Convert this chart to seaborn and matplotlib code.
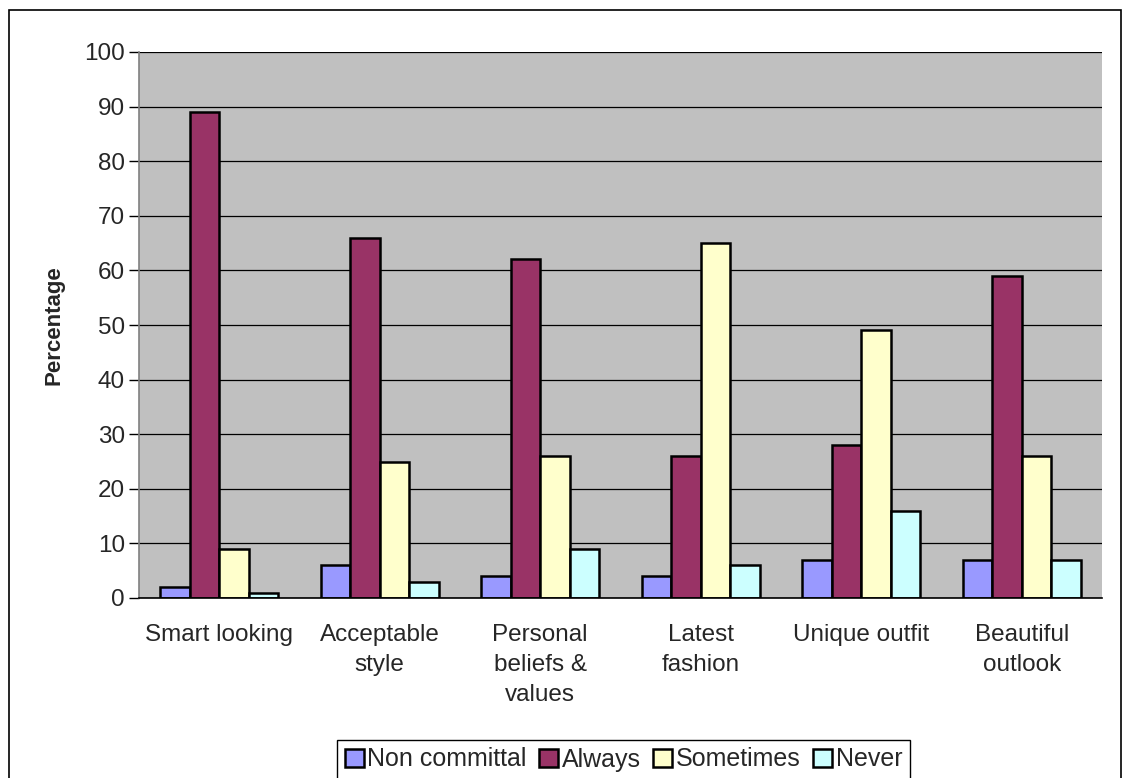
import matplotlib
matplotlib.use("Agg")
import matplotlib.pyplot as plt
import seaborn as sns
import pandas as pd
from matplotlib.patches import Rectangle

categories = ["Smart looking", "Acceptable\nstyle", "Personal\nbeliefs &\nvalues",
              "Latest\nfashion", "Unique outfit", "Beautiful\noutlook"]
series_names = ["Non committal", "Always", "Sometimes", "Never"]
non_committal = [2, 6, 4, 4, 7, 7]
always = [89, 66, 62, 26, 28, 59]
sometimes = [9, 25, 26, 65, 49, 26]
never = [1, 3, 9, 6, 16, 7]
colors = ["#9999FF", "#993366", "#FFFFCC", "#CCFFFF"]

rows = []
for s, vals in zip(series_names, [non_committal, always, sometimes, never]):
    for c, v in zip(categories, vals):
        rows.append({"Category": c, "Series": s, "Value": v})
df = pd.DataFrame(rows)

sns.set_theme(style="white")
plt.rcParams["font.family"] = ["Liberation Sans", "DejaVu Sans"]

FS = 17.5
W, H = 1139, 778
fig = plt.figure(figsize=(W / 100, H / 100), dpi=100)
ax = fig.add_axes([139 / W, 1 - 598 / H, (1102 - 139) / W, (598 - 52) / H])

sns.barplot(data=df, x="Category", y="Value", hue="Series", order=categories,
            hue_order=series_names, palette=colors, width=0.735, gap=0,
            edgecolor="black", linewidth=1.8, saturation=1, ax=ax, legend=True)

ax.set_facecolor("#C0C0C0")
ax.set_ylim(0, 100)
ax.set_xlim(-0.5, len(categories) - 0.5)
ax.set_yticks(range(0, 101, 10))
ax.yaxis.grid(True, color="black", linewidth=0.9)
ax.set_axisbelow(True)
for side in ["top", "right"]:
    ax.spines[side].set_visible(False)
for side in ["left", "bottom"]:
    ax.spines[side].set_color("#808080")
    ax.spines[side].set_linewidth(1.2)
ax.spines["bottom"].set_color("black")

ax.set_xticks([i - 0.5 for i in range(len(categories) + 1)], minor=True)
ax.set_xticklabels(categories, linespacing=1.45)
ax.tick_params(axis="x", which="major", length=0, pad=19, labelsize=FS)
ax.tick_params(axis="x", which="minor", length=7, width=1, color="black", direction="out")
ax.tick_params(axis="y", length=7, width=1, color="black", direction="out", labelsize=FS, pad=3)
ax.tick_params(axis="both", bottom=True, left=True)
ax.set_xlabel("")
ax.set_ylabel("Percentage", fontsize=16, fontweight="bold", labelpad=14)

leg = ax.get_legend()
handles = leg.legend_handles
leg.remove()
fig.legend(handles, series_names, loc="upper center",
           bbox_to_anchor=(623.5 / W, 1 - 740 / H), ncol=4, fontsize=18,
           frameon=True, fancybox=False, edgecolor="black", framealpha=1,
           handlelength=0.75, handleheight=0.75, handletextpad=0.15,
           columnspacing=0.5, borderpad=0.3, borderaxespad=0)
for h in handles:
    h.set_edgecolor("black")
    h.set_linewidth(1.8)

fig.patches.append(Rectangle((9 / W, -0.05), (1121 - 9) / W, 1.05 - 10 / H,
                             transform=fig.transFigure, fill=False,
                             edgecolor="black", linewidth=1.2))

fig.savefig("out.png", dpi=100)
